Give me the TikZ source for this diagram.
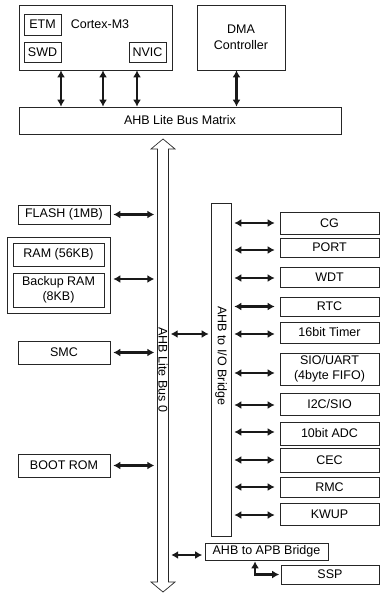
\documentclass[tikz,border=0pt]{standalone}
\usepackage{fontspec}
\setmainfont{Liberation Sans}
\usetikzlibrary{arrows.meta}
\begin{document}
\begin{tikzpicture}[x=1pt,y=-1pt,
  box/.style={draw=black!85, line width=0.7pt, inner sep=0pt, align=center,
    font=\fontsize{12.5}{15.5}\selectfont},
  txt/.style={inner sep=0pt, font=\fontsize{12.5}{15.5}\selectfont},
  biarr/.style={line width=2.3pt, draw=black!90,
    {Latex[length=7pt,width=8pt]}-{Latex[length=7pt,width=8pt]}},
  sh/.style={shorten <=#1, shorten >=#1}]
\useasboundingbox (0,0) rectangle (384,596);
% top
\node[box, minimum width=153pt, minimum height=65pt] (cortex) at (95.5,37.5) {};
\node[box, minimum width=37pt, minimum height=21pt] (etm) at (42.5,24.5) {ETM};
\node[txt] (cortexlbl) at (100,24.5) {Cortex-M3};
\node[box, minimum width=37pt, minimum height=20pt] (swd) at (42.5,52) {SWD};
\node[box, minimum width=37pt, minimum height=20pt] (nvic) at (147.5,52) {NVIC};
\node[box, minimum width=88pt, minimum height=65pt] (dma) at (241,37.5) {DMA\\Controller};
\node[box, minimum width=322pt, minimum height=27pt] (matrix) at (180,120.5) {AHB Lite Bus Matrix};
\draw[biarr] ([xshift=-34.5pt]cortex.south) -- ([xshift=-34.5pt]cortex.south |- matrix.north);
\draw[biarr] ([xshift=7.5pt]cortex.south) -- ([xshift=7.5pt]cortex.south |- matrix.north);
\draw[biarr] ([xshift=41.5pt]cortex.south) -- ([xshift=41.5pt]cortex.south |- matrix.north);
\draw[biarr] ([xshift=-4.5pt]dma.south) -- ([xshift=-4.5pt]dma.south |- matrix.north);
% bus 0
\node[minimum width=11pt, minimum height=433pt, inner sep=0pt] (bus) at (163,365.5) {};
\draw[draw=black!85, line width=0.7pt] (163,139) -- (175,149) -- (168.5,149) -- (168.5,582) -- (175,582)
  -- (163,592) -- (151,582) -- (157.5,582) -- (157.5,149) -- (151,149) -- cycle;
\node[txt, rotate=-90] (buslbl) at (163,370) {AHB Lite Bus 0};
% I/O bridge
\node[box, minimum width=20pt, minimum height=333pt] (iob) at (221,369.5) {};
\node[txt, rotate=-90] (ioblbl) at (221,356) {AHB to I/O Bridge};
% left side
\node[box, minimum width=92pt, minimum height=19pt] (flash) at (64,214.5) {FLASH (1MB)};
\node[box, minimum width=103pt, minimum height=76pt] (ramout) at (58.5,275) {};
\node[box, minimum width=91pt, minimum height=23pt] (ram) at (58.5,254.5) {RAM (56KB)};
\node[box, minimum width=91pt, minimum height=34pt] (bram) at (58.5,290) {Backup RAM\\(8KB)};
\node[box, minimum width=92pt, minimum height=23pt] (smc) at (64,352.5) {SMC};
\node[box, minimum width=92pt, minimum height=23pt] (boot) at (64,465.5) {BOOT ROM};
\draw[biarr, sh=3pt] (flash.east) -- (flash.east -| bus.west);
\draw[biarr, sh=3pt] ([yshift=-4pt]ramout.east) -- ([yshift=-4pt]ramout.east -| bus.west);
\draw[biarr, sh=3pt] (smc.east) -- (smc.east -| bus.west);
\draw[biarr, sh=3pt] (boot.east) -- (boot.east -| bus.west);
% right side
\node[box, minimum width=99pt, minimum height=22pt] (cg) at (329.5,223) {CG};
\node[box, minimum width=99pt, minimum height=19pt] (port) at (329.5,247.5) {PORT};
\node[box, minimum width=99pt, minimum height=20pt] (wdt) at (329.5,277) {WDT};
\node[box, minimum width=99pt, minimum height=19pt] (rtc) at (329.5,306.5) {RTC};
\node[box, minimum width=99pt, minimum height=21pt] (timer) at (329.5,332.5) {16bit Timer};
\node[box, minimum width=99pt, minimum height=32pt] (sio) at (329.5,369) {SIO/UART\\(4byte FIFO)};
\node[box, minimum width=99pt, minimum height=22pt] (i2c) at (329.5,404) {I2C/SIO};
\node[box, minimum width=99pt, minimum height=23pt] (adc) at (329.5,433.5) {10bit ADC};
\node[box, minimum width=99pt, minimum height=24pt] (cec) at (329.5,460) {CEC};
\node[box, minimum width=99pt, minimum height=20pt] (rmc) at (329.5,487) {RMC};
\node[box, minimum width=99pt, minimum height=22pt] (kwup) at (329.5,514) {KWUP};
\foreach \n/\s in {cg/0,port/-2.5,wdt/-1,rtc/0,timer/-1.5,sio/-4,i2c/-1,adc/1.5,cec/0,rmc/0,kwup/-1}
  \draw[biarr, shorten <=3pt, shorten >=5pt] ([yshift=\s pt]\n.west -| iob.east) -- ([yshift=\s pt]\n.west);
\draw[biarr, sh=2pt] ([yshift=-1.5pt]timer.west -| bus.east) -- ([yshift=-1.5pt]timer.west -| iob.west);
% APB
\node[box, minimum width=123pt, minimum height=17pt] (apb) at (266.5,551.5) {AHB to APB Bridge};
\node[box, minimum width=98pt, minimum height=19pt] (ssp) at (330,574.5) {SSP};
\draw[biarr, sh=2.5pt] ([yshift=-3.5pt]apb.west -| bus.east) -- ([yshift=-3.5pt]apb.west);
\draw[biarr, shorten <=1pt, shorten >=1.5pt] ([xshift=-11.5pt]apb.south) |- (ssp.west);
\end{tikzpicture}
\end{document}
